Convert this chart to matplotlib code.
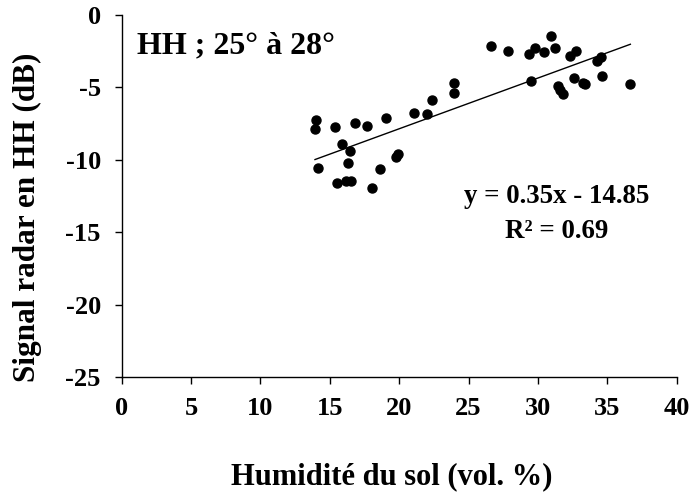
import numpy as np
import matplotlib
matplotlib.use('Agg')
import matplotlib.pyplot as plt

# Humidité du sol (vol. %) et signal radar HH (dB)
humidite = [13.99, 13.93, 14.12, 15.39, 15.52, 15.87, 16.31, 16.47, 16.18, 16.50,
            16.85, 17.68, 18.03, 18.63, 19.05, 19.78, 19.94, 21.05, 22.03, 22.38,
            23.94, 23.94, 26.65, 27.85, 29.35, 29.51, 29.76, 30.46, 30.91, 31.26,
            31.48, 31.57, 31.80, 32.31, 32.75, 32.62, 33.26, 33.42, 34.28, 34.53,
            34.59, 36.66]
signal_hh = [-7.24, -7.84, -10.56, -7.75, -11.58, -8.90, -10.19, -9.41, -11.44, -11.44,
             -7.47, -7.66, -11.95, -10.65, -7.10, -9.82, -9.59, -6.73, -6.83, -5.88,
             -4.70, -5.40, -2.17, -2.47, -2.70, -4.54, -2.28, -2.58, -1.43, -2.28,
             -4.89, -5.17, -5.47, -2.86, -2.47, -4.34, -4.66, -4.77, -3.16, -2.93,
             -4.20, -4.75]
pente, ordonnee = 0.35, -14.85
r2 = 0.69

plt.rcParams['font.family'] = ['Liberation Serif']
plt.rcParams['font.weight'] = 'bold'
plt.rcParams['axes.unicode_minus'] = False

W, H = 693, 492
fig = plt.figure(figsize=(W / 100, H / 100), dpi=100)
ax = fig.add_axes([121.7 / W, 1 - 377.3 / H, 555 / W, 362.3 / H])

ax.plot(humidite, signal_hh, 'o', color='black', markersize=6.5, zorder=3)
xs = np.array([min(humidite), max(humidite)])
ax.plot(xs, pente * xs + ordonnee, color='black', linewidth=1.0)

ax.set_xlim(0, 40)
ax.set_ylim(-25, 0)
ax.set_xticks(range(0, 41, 5))
ax.set_yticks(range(-25, 1, 5))
for s in ['top', 'right']:
    ax.spines[s].set_visible(False)
for s in ['left', 'bottom']:
    ax.spines[s].set_linewidth(1.0)
ax.tick_params(direction='out', length=5, width=1, labelsize=19)
ax.tick_params(axis='x', pad=9)
ax.tick_params(axis='y', pad=10)
for lab in ax.get_xticklabels() + ax.get_yticklabels():
    lab.set_fontweight('bold')

fig.text(392 / W, 1 - 484 / H, 'Humidité du sol (vol. %)', fontsize=22,
         fontweight='bold', ha='center', va='baseline')
fig.text(27 / W, 1 - 217 / H, 'Signal radar en HH (dB)', fontsize=22.5,
         fontweight='bold', ha='center', va='center', rotation=90)

fig.text(137 / W, 1 - 53 / H, 'HH ; 25° à 28°', fontsize=23,
         fontweight='bold', ha='left', va='baseline')
fig.text(557 / W, 1 - 203 / H, f'y = {pente:.2f}x - {abs(ordonnee):.2f}',
         fontsize=19.4, fontweight='bold', ha='center', va='baseline')
fig.text(557 / W, 1 - 238 / H, f'R² = {r2:.2f}',
         fontsize=19.4, fontweight='bold', ha='center', va='baseline')

fig.savefig('out.png', dpi=100)
